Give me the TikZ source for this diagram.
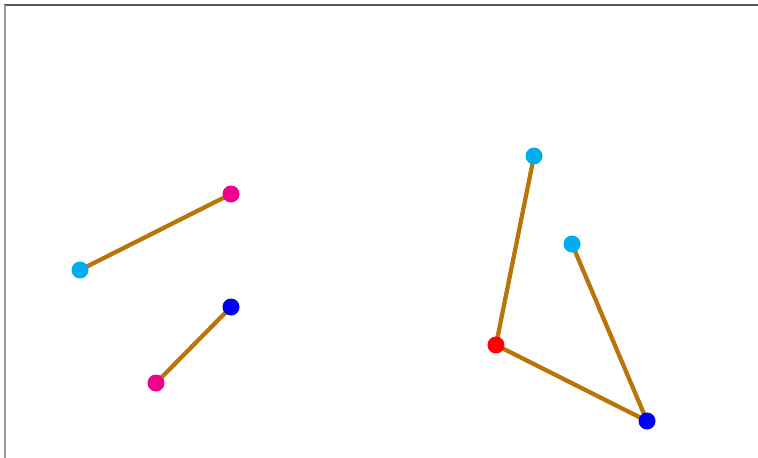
\documentclass[tikz,border=0pt]{standalone}
\usepackage{tikz}
\usetikzlibrary{positioning, backgrounds}
\definecolor{stickBrown}{HTML}{B8750A}
\definecolor{dotCyan}{HTML}{00AEEF}
\definecolor{dotMagenta}{HTML}{EC008C}
\definecolor{dotBlue}{HTML}{0000F0}
\definecolor{dotRed}{HTML}{FF0000}
\definecolor{frameDark}{HTML}{555555}
\definecolor{frameLight}{HTML}{999999}

\begin{document}
\begin{tikzpicture}[x=1pt, y=-1pt,
        dot/.style={circle, inner sep=0pt, minimum size=17pt},
        stick/.style={draw=stickBrown, line width=4.3pt}
      ]
        \useasboundingbox (0,0) rectangle (758,458);
        % frame
        \draw[frameDark, line width=1.5pt] (4,5) -- (758,5);
        \draw[frameLight, line width=1.5pt] (5,5) -- (5,458);
        % dots
        \node[dot, fill=dotCyan]    (c1) at (80,270) {};
        \node[dot, fill=dotMagenta] (m1) at (231,194) {};
        \node[dot, fill=dotMagenta] (m2) at (156,383) {};
        \node[dot, fill=dotBlue]    (b1) at (231,307) {};
        \node[dot, fill=dotCyan]    (c2) at (534,156) {};
        \node[dot, fill=dotRed]     (r1) at (496,345) {};
        \node[dot, fill=dotBlue]    (b2) at (647,421) {};
        \node[dot, fill=dotCyan]    (c3) at (572,244) {};
        % sticks
        \begin{pgfonlayer}{background}
          \draw[stick] (c1.center) -- (m1.center);
          \draw[stick] (m2.center) -- (b1.center);
          \draw[stick] (c2.center) -- (r1.center) -- (b2.center);
          \draw[stick] (c3.center) -- (b2.center);
        \end{pgfonlayer}
      \end{tikzpicture}
\end{document}
